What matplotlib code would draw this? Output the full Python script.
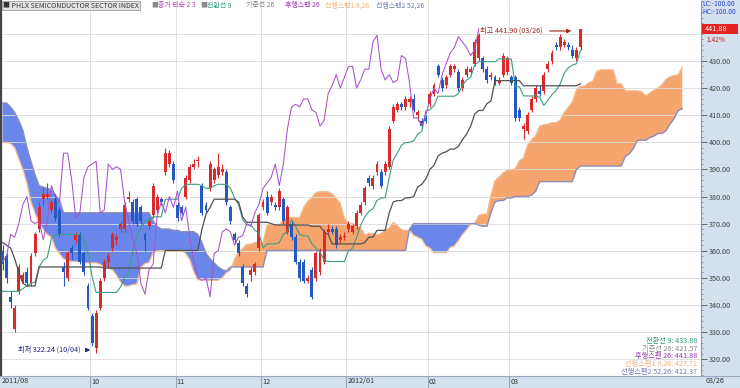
import matplotlib
matplotlib.use('Agg')
import matplotlib.pyplot as plt
from matplotlib.patches import Rectangle
from matplotlib.lines import Line2D
from matplotlib.ticker import MultipleLocator, FixedLocator, FormatStrFormatter
import numpy as np

plt.rcParams['font.family'] = ['Noto Sans CJK KR', 'DejaVu Sans']

# --- daily candles, 2011/08/31 .. 2012/03/26 (143 bars) ---
opens = [360, 358, 343, 331, 345, 349, 352, 348, 359, 368,
         379, 380, 375, 379, 375, 354, 350, 361, 364, 366,
         359, 347, 336, 324, 339, 350, 356, 361, 364, 368,
         368, 379, 378, 379, 376, 366, 369, 373, 375, 379,
         389, 392, 392, 377, 376, 380, 386, 391, 393, 384,
         377, 383, 386, 388, 389, 389, 376, 366, 363, 354,
         347, 351, 352, 361, 376, 380, 378, 377, 376, 379,
         367, 370, 365, 356, 356, 349, 353, 350, 352, 356,
         367, 368, 368, 364, 365, 368, 367, 369, 374, 378,
         387, 384, 389, 389, 389, 391, 408, 412, 414, 413,
         415, 416, 410, 408, 409, 414, 418, 428, 423, 421,
         425, 427, 426, 420, 425, 426, 429, 431, 431, 427,
         424, 424, 422, 425, 426, 424, 424, 412, 405, 404,
         412, 416, 419, 419, 427, 430, 436, 435, 436, 436,
         434, 431, 435]
highs = [362, 359, 345, 340, 355, 352, 354, 359, 367, 378,
         383, 385, 379, 381, 376, 356, 360, 362, 367, 367,
         360, 348, 337, 338, 350, 357, 359, 367, 366, 371,
         378, 382, 379, 380, 377, 367, 372, 385, 381, 380,
         398, 397, 393, 378, 377, 388, 392, 394, 395, 385,
         378, 393, 391, 396, 392, 390, 377, 367, 364, 355,
         348, 354, 356, 374, 379, 382, 381, 378, 383, 380,
         377, 371, 366, 357, 357, 351, 354, 360, 361, 368,
         370, 369, 369, 366, 367, 371, 370, 375, 378, 384,
         388, 388, 393, 390, 393, 406, 414, 415, 415, 417,
         417, 418, 412, 409, 410, 419, 422, 429, 424, 425,
         429, 429, 427, 424, 428, 428, 438, 440.5, 432, 428,
         426, 425, 424, 433, 432, 425, 425, 413, 407, 411,
         417, 421, 421, 426, 430, 434, 437, 440, 438, 437,
         436, 435, 441.9]
lows = [353, 348, 339, 330, 344, 348, 347, 347, 358, 367,
        377, 379, 374, 371, 365, 347, 349, 357, 363, 355,
        351, 338, 325, 322.24, 338, 349, 354, 360, 362, 367,
        367, 378, 370, 369, 370, 360, 368, 372, 374, 377,
        388, 391, 385, 371, 373, 379, 385, 390, 391, 373,
        374, 382, 385, 387, 388, 377, 370, 363, 358, 347,
        343, 349, 351, 360, 375, 373, 377, 375, 375, 370,
        366, 364, 355, 349, 348, 348, 342, 349, 351, 355,
        366, 366, 361, 363, 364, 367, 366, 368, 373, 377,
        384, 382.8, 388, 383, 388, 390, 407, 411, 412, 412,
        413, 411, 408, 405, 407, 413, 417, 424, 419, 420,
        424, 426, 419, 419, 424, 425, 428, 430, 426, 422,
        423, 421, 421, 424, 425, 421, 408, 408, 401.2, 403,
        411, 415, 417, 418, 426, 429, 434, 434, 435, 434,
        431, 430, 434]
closes = [355, 350, 341, 339, 354, 351, 348, 358, 366, 376,
          381, 381, 378, 372, 366, 352, 359, 359, 366, 356,
          352, 339, 326, 337, 349, 356, 358, 366, 365, 370,
          377, 380, 371, 370, 371, 364, 371, 384, 380, 378,
          396, 396, 386, 372, 374, 387, 391, 392, 393, 374,
          375, 392, 390, 391, 390, 378, 371, 364, 359, 348,
          344, 353, 355, 373, 378, 374, 380, 376, 382, 371,
          376, 365, 356, 350, 349, 350, 343, 359, 360, 367,
          368, 367, 362, 365, 365.5, 370, 369, 374, 377, 383,
          385, 387, 392, 384, 392, 405, 413, 414, 413, 416,
          416, 412, 411, 406, 408, 418, 421, 425, 420, 424,
          428, 428, 420, 423, 427, 427, 437, 439.5, 427, 423,
          425, 422, 423, 432, 431, 422, 409, 409, 406, 410,
          416, 420, 418, 425, 429, 433, 435, 439, 437, 435,
          432, 434, 441.88]

# --- ichimoku lines ---
conversion = [345, 345, 345, 345, 345, 346, 347, 348, 348.5, 354,
              356.5, 357.5, 364.5, 366, 366, 366, 366, 366, 366, 366,
              364, 359.5, 350.5, 344.6, 344.6, 344.6, 344.6, 344.6, 344.6, 346.6,
              350.1, 352.1, 360, 365.5, 368, 371, 371, 372.5, 372.5, 372.5,
              379, 379, 379, 379, 383, 384.5, 384.5, 384.5, 384.5, 384,
              383, 383, 384, 384.5, 384.5, 384.5, 383, 379.5, 377, 371.5,
              369.5, 369.5, 367.5, 366.5, 361, 362.5, 362.5, 362.5, 363, 366,
              367, 371.5, 369, 366, 365.5, 365.5, 362.5, 361, 359.5, 356.5,
              356, 356, 356, 356, 356, 360, 361, 365, 369.5, 372.5,
              374.5, 375.5, 378.5, 379.5, 379.5, 387, 393.5, 396, 398.9, 399.9,
              400, 400.5, 403, 404, 411.5, 412, 413.5, 417, 417, 417,
              417, 417, 418, 421, 423, 424, 428.5, 429.75, 429.75, 429.75,
              429.75, 429.75, 430.75, 430.75, 430.75, 430.75, 420.5, 420.5, 417.1, 417.1,
              417.1, 417.1, 416.6, 413.6, 415.6, 417.6, 419.1, 421.5, 425.5, 427.5,
              428.5, 429, 433.88]
base = ([363, 362, 361, 357, 352, 348, 347, 347, 347] + [354] * 16 + [353.6] * 15
        + [360.1] * 9 + [368, 373.5, 376, 379, 379, 379, 379, 379, 379, 378, 372.5]
        + [370.5] * 6 + [370] + [369.5] * 9 + [369, 369, 369, 367, 366] + [362.5] * 8
        + [363, 365, 365, 367.5, 367.5, 367.5, 374, 378, 378.5, 378.5, 379.5,
           379.5, 380, 383.5, 384.5, 386.5, 390, 391.5, 395, 396, 396.5,
           397.5, 397.5, 398.5, 401, 403, 405.9, 410.4, 411.75, 411.75, 414.25, 415.25]
        + [422.75] * 7 + [420.85] * 14 + [421.57])
span1 = [400, 400, 399.5, 398, 394, 390, 385, 378, 374, 370,
         368, 366, 365, 361, 359, 357, 356.5, 356, 356, 356,
         355.5, 355.5, 355.5, 355.5, 355,
         354, 353.5, 353, 351, 348.5, 347, 347, 347.5, 347.75, 354,
         355.25, 355.75, 359.25, 360, 360, 360, 360, 360, 360, 360,
         359, 356.75, 352.25, 349.3, 349.3, 349.1, 349.1, 349.1, 349.1, 350.1,
         351.85, 352.85, 356.8, 359.55, 360.8, 362.3, 362.3, 363.05, 363.05, 363.05,
         369.55, 369.55, 369.55, 369.55, 371.55, 372.3, 372.3, 372.3, 372.3, 376,
         378.25, 379.5, 381.5, 381.75, 381.75, 381.75, 381, 379.25, 377.5, 372,
         370, 370, 369, 368.5, 365.75, 366.5, 366.25, 366, 366.25, 367.75,
         368.25, 370.5, 369.25, 367.75, 367.5, 367.5, 365.75, 365, 364.25, 361.75,
         361, 359.25, 359.25, 359.25, 359.25, 361.25, 361.75, 363.75, 366, 367.75,
         369.75, 370.25, 373, 373.5, 373.5, 380.5, 385.75, 387.25, 388.7, 389.7,
         389.75, 390.25, 393.25, 394.25, 399, 401, 402.5, 406, 406.5, 406.75,
         407.25, 407.25, 408.25, 411, 413, 414.95, 419.45, 420.75, 420.75, 422,
         422.5, 426.25, 426.75, 426.75, 426.75, 426.75, 421.6, 421.6, 419, 419,
         419, 419, 418.7, 417.2, 418.2, 419.2, 420, 421.2, 423.2, 424.2,
         424.7, 424.9, 427.72]
span2 = ([414.5, 414.5, 413, 411, 408, 404.5, 398, 393, 388, 384, 383.5, 383, 382.5, 380.5, 378.7]
         + [374] * 22 + [371, 369, 368, 368, 368, 367.5, 367.5, 367, 367, 367, 367,
                         366, 363, 359, 357, 355.5, 354, 353, 352.5]
         + [354] * 9 + [360.1] * 35 + [368] + [370] * 16 + [369.5, 369, 369]
         + [374, 378, 378.5, 378.5, 379.5, 379.5, 380, 380, 380, 380, 380.5, 382]
         + [385.5] * 9 + [390] + [391.25] * 11
         + [394.75, 395.75, 397.75, 400.75, 400.75, 400.75, 401.75, 402.25,
            403.25, 403.25, 404.25, 406.75, 408.75, 411.65, 412.37])
lag_shift = 25

month_bars = [22, 43, 64, 85, 105, 125]
month_labels = ['10', '11', '12', '2012/01', '02', '03']
price_ticks = [320, 330, 340, 350, 360, 370, 380, 390, 400, 410, 420, 430]

legend_items = [('전환선 9: 433.88', '#2e9a7c'), ('기준선 26: 421.57', '#8a8a8a'),
                ('후행스팬 26: 441.88', '#9a34b4'), ('선행스팬1 9,26: 427.72', '#f0b27a'),
                ('선행스팬2 52,26: 412.37', '#6f7cb4')]

W, H = 740, 388
UP, DOWN = '#d92b2b', '#2459c2'
STRIP = '#d5e0ee'
FS = 5.2


def fx(px):
    return px / W


def fy(py):
    return 1 - py / H


fig = plt.figure(figsize=(W / 100, H / 100), dpi=100)
fig.patch.set_facecolor('white')
fig.add_artist(Rectangle((fx(701), 0), 1 - fx(701), 1, transform=fig.transFigure,
                         facecolor=STRIP, edgecolor='none', zorder=0))
fig.add_artist(Rectangle((0, 0), 1, 12 / H, transform=fig.transFigure,
                         facecolor=STRIP, edgecolor='none', zorder=0))
fig.add_artist(Line2D([0, 1], [12 / H, 12 / H], transform=fig.transFigure,
                      color='#9aa8bd', lw=0.8))

ax = fig.add_axes([fx(1), 12 / H, 700 / W, 375 / H])
ax.set_facecolor('white')

idx = np.arange(len(closes))
fut = np.arange(len(span1))
o, h, l, c = map(np.array, (opens, highs, lows, closes))
s1, s2 = np.array(span1), np.array(span2)

# cloud
ax.fill_between(fut, s1, s2, where=s1 >= s2, interpolate=True, color='#f5a56d', lw=0, zorder=1)
ax.fill_between(fut, s1, s2, where=s1 < s2, interpolate=True, color='#6b86ea', lw=0, zorder=1)
ax.plot(fut, s1, color='#f2bd92', lw=0.9, zorder=2)
ax.plot(fut, s2, color='#8a8cba', lw=1.0, zorder=2)

# candles
col = np.where(c >= o, UP, DOWN)
ax.vlines(idx, l, h, colors=col, lw=0.8, zorder=3)
body = np.maximum(np.abs(c - o), 0.35)
ax.bar(idx, body, bottom=np.minimum(o, c), width=0.72, color=col, lw=0, zorder=3)

# lines
ax.plot(idx, conversion, color='#3a9e86', lw=0.8, zorder=4)
ax.plot(idx, base, color='#505050', lw=0.9, zorder=4)
ax.plot(idx[:-lag_shift], c[lag_shift:], color='#a652c8', lw=0.75, zorder=4)

ax.set_xlim(-0.37, 171.6)
ax.set_ylim(313.77, 452.14)
ax.yaxis.set_major_locator(FixedLocator(price_ticks))
ax.yaxis.set_minor_locator(MultipleLocator(2))
ax.yaxis.set_major_formatter(FormatStrFormatter('%.2f'))
ax.yaxis.tick_right()
ax.tick_params(axis='y', which='major', length=4, width=0.6, color='#555',
               labelsize=FS, labelcolor='#444', pad=1.5)
ax.tick_params(axis='y', which='minor', length=1.5, width=0.5, color='#777')
ax.set_xticks([])
ax.grid(axis='y', color='#dcdcdc', lw=0.6, zorder=0)
ax.axhline(440, color='#dcdcdc', lw=0.6, zorder=0)
for m in month_bars:
    ax.axvline(m - 0.5, color='#dcdcdc', lw=0.6, zorder=0)
for side in ['top', 'bottom']:
    ax.spines[side].set_visible(False)
ax.spines['left'].set_color('#444')
ax.spines['left'].set_linewidth(1.6)
ax.spines['right'].set_color('#8a96a8')
ax.spines['right'].set_linewidth(0.8)

# x labels in the bottom strip
xlab_y = fy(381.5)
lab_ax_y = (xlab_y - 12 / H) / (375 / H)
ax.text(-0.3, lab_ax_y, '2011/08', transform=ax.get_xaxis_transform(), fontsize=FS,
        color='#333', va='center', ha='left', clip_on=False)
for m, lab in zip(month_bars, month_labels):
    ax.text(m - 0.2, lab_ax_y, lab, transform=ax.get_xaxis_transform(),
            fontsize=FS, color='#333', va='center', ha='left', clip_on=False)
    ax.plot([m - 0.5, m - 0.5], [0, -0.032], transform=ax.get_xaxis_transform(),
            color='#8a96a8', lw=0.6, clip_on=False)
fig.text(fx(706), xlab_y, '03/26', fontsize=FS, color='#333', va='center')

# title strip
TS = 5.0
fig.text(fx(3), fy(5.5), '■ PHLX SEMICONDUCTOR SECTOR INDEX', fontsize=TS, color='#333',
         va='center', bbox=dict(boxstyle='square,pad=0.12', fc='#e4e4e4', ec='#9a9a9a', lw=0.6))
for px, txt, cl in [(151, '■', '#888'), (158, '종가 단순 2 3', '#c03cc0'), (200, '■', '#888'),
                    (207, '전환선 9', '#2e9a7c'), (246, '기준선 26', '#808080'),
                    (285, '후행스팬 26', '#9a34b4'), (325, '선행스팬1 9,26', '#f0b27a'),
                    (376, '선행스팬2 52,26', '#6f7cb4')]:
    fig.text(fx(px), fy(5.5), txt, fontsize=TS, color=cl, va='center')

# right strip texts
fig.text(fx(702.5), fy(4), 'LC:-100.00', fontsize=4.8, color='#2a4cc8', va='center')
fig.text(fx(702.5), fy(12), 'HC:-100.00', fontsize=4.8, color='#2a4cc8', va='center')
fig.add_artist(Rectangle((fx(702), fy(33.5)), 36 / W, 9.5 / H, transform=fig.transFigure,
                         facecolor='#e3231f', edgecolor='none'))
fig.text(fx(705), fy(28.8), '%.2f' % closes[-1], fontsize=FS, color='white', va='center')
fig.text(fx(706), fy(39.5), '1.42%', fontsize=4.8, color='#c02020', va='center')

# high / low marks
fig.text(fx(543), fy(31), '최고 441.90 (03/26)', fontsize=FS, color='#a02222', ha='right', va='center')
ax.annotate('', xy=(574, H - 31), xytext=(547, H - 31), xycoords='figure pixels',
            arrowprops=dict(arrowstyle='-|>', color='#a02222', lw=0.8, mutation_scale=6))
fig.text(fx(81), fy(350), '최저 322.24 (10/04)', fontsize=FS, color='#22227a', ha='right', va='center')
ax.annotate('', xy=(93, H - 350), xytext=(84, H - 350), xycoords='figure pixels',
            arrowprops=dict(arrowstyle='-|>', color='#22227a', lw=0.8, mutation_scale=6))

# value legend, bottom right
for k, (txt, cl) in enumerate(legend_items):
    fig.text(fx(697), fy(341 + 7.6 * k), txt, fontsize=FS, color=cl, ha='right', va='center')

fig.savefig('out.png', dpi=100)
